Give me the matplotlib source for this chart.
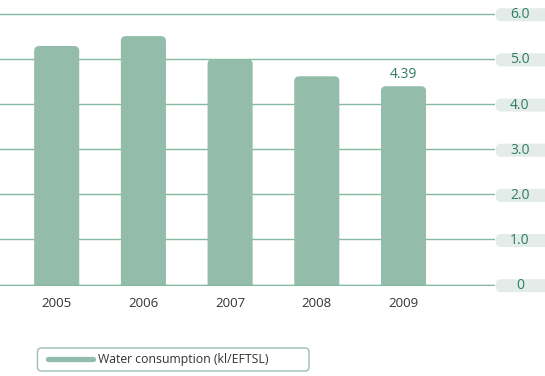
import matplotlib
matplotlib.use("Agg")
import matplotlib.pyplot as plt
import matplotlib.transforms as mtransforms
from matplotlib.patches import FancyBboxPatch
from matplotlib.lines import Line2D

# data
years = ["2005", "2006", "2007", "2008", "2009"]
consumption = [5.28, 5.50, 4.99, 4.61, 4.39]
ytick_vals = [0, 1, 2, 3, 4, 5, 6]
ytick_labels = ["0", "1.0", "2.0", "3.0", "4.0", "5.0", "6.0"]
legend_label = "Water consumption (kl/EFTSL)"

BAR = "#93bcab"
GRID = "#85b9a2"
TAB = "#e3ece8"
GREEN_TXT = "#2f7d5e"
DARK = "#333333"

plt.rcParams["font.family"] = ["Open Sans", "DejaVu Sans"]

W, H = 545, 376
fig = plt.figure(figsize=(W / 100, H / 100), dpi=100)

# pixel geometry of the plotting area
y0_px, y6_px = 284.5, 13.5
ppu = (y0_px - y6_px) / 6.0  # pixels per unit on y
pad_u = 0.03
ax_bottom = y0_px + pad_u * ppu
ax_top = y6_px - pad_u * ppu
ax_w_px = 495.0
ax = fig.add_axes([0, 1 - ax_bottom / H, ax_w_px / W, (ax_bottom - ax_top) / H])

step_px = 86.7
x0_px = 56.7
xlo = -x0_px / step_px
xhi = (ax_w_px - x0_px) / step_px

x = list(range(len(years)))
bars = ax.bar(x, consumption, width=0.52, color=BAR, zorder=2)

# swap plain bars for rounded-top ones
r_x = 5 / step_px
aspect = step_px / ppu
for rect in bars:
    bx, by = rect.get_x(), rect.get_y()
    bw, bh = rect.get_width(), rect.get_height()
    rect.remove()
    rb = FancyBboxPatch((bx, by - 0.3), bw, bh + 0.3,
                        boxstyle="round,pad=0,rounding_size=%f" % r_x,
                        mutation_aspect=aspect, facecolor=BAR,
                        edgecolor="none", zorder=2)
    ax.add_patch(rb)

ax.set_xlim(xlo, xhi)
ax.set_ylim(-pad_u, 6 + pad_u)
ax.set_yticks(ytick_vals)
ax.set_axisbelow(True)
ax.yaxis.grid(True, color=GRID, linewidth=1.0)
ax.axhline(0, color=GRID, linewidth=1.0, zorder=3)
for s in ax.spines.values():
    s.set_visible(False)
ax.tick_params(left=False, right=False, labelleft=False, bottom=False)
ax.set_xticks(x, years)
ax.tick_params(axis="x", pad=4.5, labelsize=9.5, labelcolor=DARK)

# value label on the last bar
ax.annotate("%.2f" % consumption[-1], xy=(x[-1], consumption[-1]),
            xytext=(0, 3), textcoords="offset points",
            ha="center", va="bottom", fontsize=10, color=GREEN_TXT)

# y labels sitting in little tabs on the right
trans = mtransforms.blended_transform_factory(ax.transAxes, ax.transData)
for v, lab in zip(ytick_vals, ytick_labels):
    yc = v - 1.2 / ppu
    tab = FancyBboxPatch((1 + 1 / ax_w_px, yc - 6.5 / ppu), 60 / ax_w_px, 13 / ppu,
                         boxstyle="round,pad=0,rounding_size=%f" % (5 / ax_w_px),
                         mutation_aspect=ax_w_px / ppu, transform=trans,
                         facecolor=TAB, edgecolor="none", zorder=1)
    fig.add_artist(tab)
    fig.text(1 + 25 / ax_w_px, yc, lab, transform=trans, ha="center", va="center",
             fontsize=10, color=GREEN_TXT, zorder=3)

# legend drawn by hand
box = FancyBboxPatch((37.5 / W, 1 - 371 / H), (309 - 37.5) / W, 23 / H,
                     boxstyle="round,pad=0,rounding_size=%f" % (4 / W),
                     mutation_aspect=W / H, transform=fig.transFigure,
                     facecolor="white", edgecolor="#9dbdb0", linewidth=1)
fig.add_artist(box)
fig.add_artist(Line2D([47.5 / W, 92.5 / W], [1 - 359 / H] * 2, transform=fig.transFigure,
                      color=BAR, linewidth=3.8, solid_capstyle="round"))
fig.text(98 / W, 1 - 359 / H, legend_label, va="center", ha="left",
         fontsize=8.8, color=DARK)

fig.savefig("out.png", dpi=100)
